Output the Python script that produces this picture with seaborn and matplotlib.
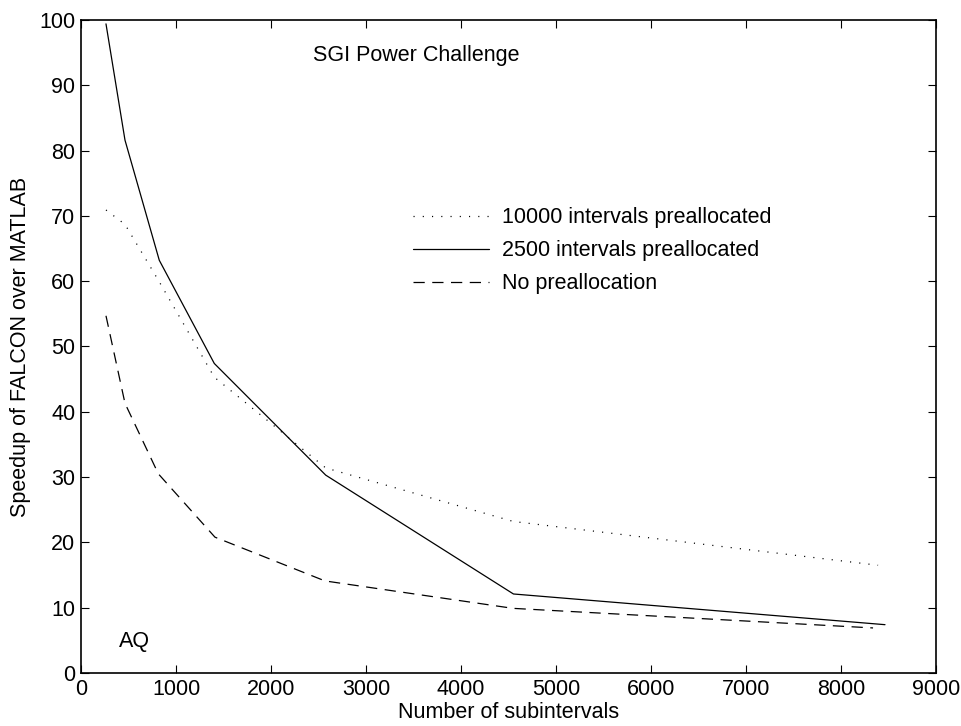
import numpy as np
import pandas as pd
import seaborn as sns
import matplotlib.pyplot as plt

# values
x_10000 = [263, 463, 824, 1403, 2576, 4552, 8390]
y_10000 = [70.9, 68.7, 59.9, 45.3, 31.4, 23.2, 16.5]

x_2500 = [263, 463, 824, 1403, 2576, 4552, 8463]
y_2500 = [99.4, 81.6, 63.2, 47.4, 30.3, 12.1, 7.4]

x_none = [263, 463, 814, 1410, 2568, 4547, 8337]
y_none = [54.7, 41.3, 30.5, 20.8, 14.1, 9.9, 6.9]

labels = ['10000 intervals preallocated', '2500 intervals preallocated', 'No preallocation']
x_ticks = list(range(0, 9001, 1000))
y_ticks = list(range(0, 101, 10))

sns.set_style("ticks")
plt.rcParams['font.family'] = ['Liberation Sans', 'DejaVu Sans']
plt.rcParams['font.size'] = 15.5
plt.rcParams['text.color'] = 'black'
plt.rcParams['axes.labelcolor'] = 'black'

fig = plt.figure(figsize=(9.62, 7.26), dpi=100)
ax = fig.add_axes([0.0842, 0.073, 0.8888, 0.8995])

series = [(x_10000, y_10000, (0, (0.9, 6.5))),
          (x_2500, y_2500, '-'),
          (x_none, y_none, (0, (9, 6)))]
for (xs, ys, ls), lab in zip(series, labels):
    df = pd.DataFrame({'x': xs, 'y': ys})
    sns.lineplot(data=df, x='x', y='y', ax=ax, color='black', linewidth=0.9,
                 linestyle=ls, estimator=None, sort=False, label=lab)

ax.set_xlim(0, 9000)
ax.set_ylim(0, 100)
ax.set_xticks(x_ticks)
ax.set_yticks(y_ticks)
ax.tick_params(direction='in', length=6, width=0.8, top=True, right=True,
               labelsize=15.5, colors='black', pad=4)
for sp in ax.spines.values():
    sp.set_visible(True)
    sp.set_linewidth(1.2)
    sp.set_color('black')

ax.set_xlabel('Number of subintervals', fontsize=15.5, labelpad=2)
ax.set_ylabel('Speedup of FALCON over MATLAB', fontsize=15.5, labelpad=6)

ax.text(2440, 94.6, 'SGI Power Challenge', fontsize=15.5, va='center', ha='left')
ax.text(400, 4.8, 'AQ', fontsize=15.5, va='center', ha='left')

leg = ax.legend(loc='upper left', bbox_to_anchor=(0.388, 0.713), frameon=False,
                fontsize=15.5, handlelength=3.55, handletextpad=0.6, labelspacing=0.55,
                borderaxespad=0, borderpad=0)
for t in leg.get_texts():
    t.set_color('black')

fig.savefig('out.png', dpi=100)
